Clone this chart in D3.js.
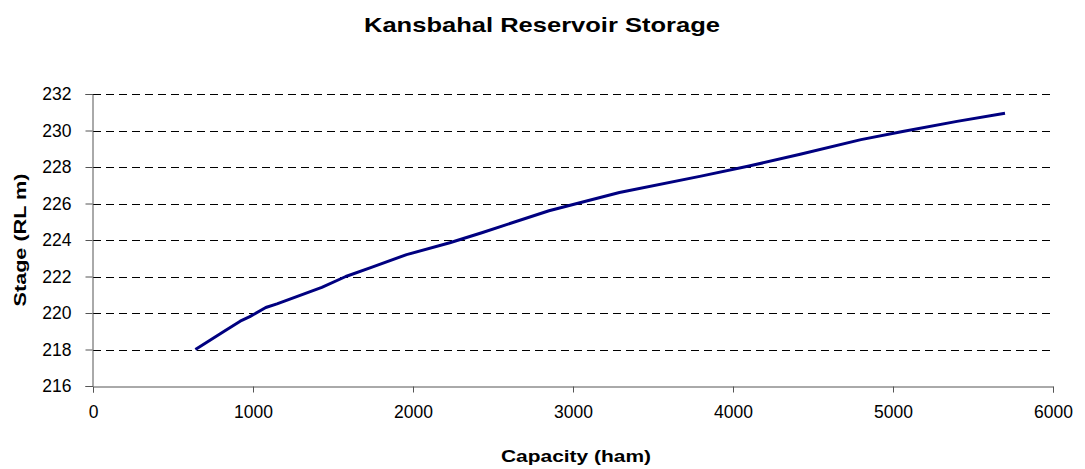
<!DOCTYPE html>
<html>
<head>
<meta charset="utf-8">
<script src="https://cdn.jsdelivr.net/npm/d3@7"></script>
<style>
  body { margin: 0; background: #fff; }
  text { font-family: "Liberation Sans", Arial, sans-serif; fill: #000; }
</style>
</head>
<body>
<script>
// capacity (ham) vs stage (RL m)
const capacity = [640, 820, 920, 980, 1080, 1150, 1430, 1580, 1740, 1960, 2230, 2430,
                  2850, 3290, 3800, 4100, 4420, 4800, 5060, 5400, 5700];
const stage = [218.0, 219.0, 219.55, 219.8, 220.3, 220.5, 221.4, 222.0, 222.5, 223.2, 223.85, 224.4,
               225.6, 226.6, 227.5, 228.05, 228.7, 229.5, 229.95, 230.5, 230.95];
const xTicks = [0, 1000, 2000, 3000, 4000, 5000, 6000];
const yTicks = [216, 218, 220, 222, 224, 226, 228, 230, 232];

const width = 1085, height = 469;
const margin = {left: 93, right: 32, top: 94, bottom: 83};

const svg = d3.select("body").append("svg")
    .attr("width", width)
    .attr("height", height);

const x = d3.scaleLinear().domain([0, 6000]).range([margin.left, width - margin.right]);
const y = d3.scaleLinear().domain([216, 232]).range([height - margin.bottom, margin.top]);

// dashed gridlines
svg.append("g")
  .selectAll("line")
  .data(yTicks.slice(1))
  .enter()
  .append("line")
    .attr("x1", x(0))
    .attr("x2", x(6000))
    .attr("y1", d => Math.round(y(d)) + 0.5)
    .attr("y2", d => Math.round(y(d)) + 0.5)
    .attr("stroke", "#000")
    .attr("stroke-dasharray", "8,5");

// axes
const xAxis = svg.append("g")
    .attr("transform", "translate(0," + (Math.round(y(216)) + 0.5) + ")")
    .call(d3.axisBottom(x).tickValues(xTicks).tickSize(6).tickPadding(13).tickFormat(d3.format("d")));
const yAxis = svg.append("g")
    .attr("transform", "translate(" + (Math.round(x(0)) - 0.5) + ",0)")
    .call(d3.axisLeft(y).tickValues(yTicks).tickSize(7).tickPadding(14).tickFormat(d3.format("d")));

[xAxis, yAxis].forEach(a => {
  a.select(".domain").attr("stroke", "#555");
  a.selectAll(".tick line").attr("stroke", "#555");
  a.selectAll(".tick text")
    .style("font-family", "'Liberation Sans', Arial, sans-serif")
    .style("font-size", "17.5px");
});

// the curve
const line = d3.line()
    .x((d, i) => x(capacity[i]))
    .y(d => y(d));

svg.append("path")
    .datum(stage)
    .attr("fill", "none")
    .attr("stroke", "#000080")
    .attr("stroke-width", 3)
    .attr("stroke-linejoin", "round")
    .attr("d", line);

// titles
svg.append("text")
    .attr("x", 542).attr("y", 32)
    .attr("text-anchor", "middle")
    .attr("textLength", 356).attr("lengthAdjust", "spacingAndGlyphs")
    .style("font-size", "21px").style("font-weight", "bold")
    .text("Kansbahal Reservoir Storage");

svg.append("text")
    .attr("x", 576).attr("y", 462)
    .attr("text-anchor", "middle")
    .attr("textLength", 150).attr("lengthAdjust", "spacingAndGlyphs")
    .style("font-size", "17px").style("font-weight", "bold")
    .text("Capacity (ham)");

svg.append("text")
    .attr("transform", "translate(26," + ((y(216) + y(232)) / 2) + ") rotate(-90)")
    .attr("text-anchor", "middle")
    .attr("textLength", 133).attr("lengthAdjust", "spacingAndGlyphs")
    .style("font-size", "17px").style("font-weight", "bold")
    .text("Stage (RL m)");
</script>
</body>
</html>
